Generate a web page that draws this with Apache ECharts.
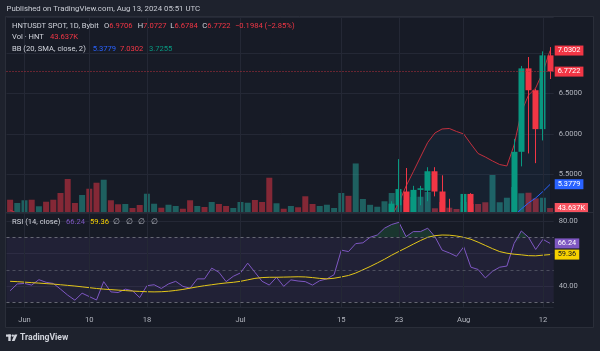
<!DOCTYPE html>
<html>
<head>
<meta charset="utf-8">
<title>HNTUSDT 1D</title>
<script src="https://cdn.jsdelivr.net/npm/echarts@6/dist/echarts.min.js"></script>
<style>
  html, body { margin: 0; padding: 0; background: #1e222d; }
  #chart { width: 600px; height: 351px; }
</style>
</head>
<body>
<div id="chart"></div>
<script>
// daily bars, 30 May - 13 Aug 2024
var dates = [
  '2024-05-30','2024-05-31',
  '2024-06-01','2024-06-02','2024-06-03','2024-06-04','2024-06-05','2024-06-06','2024-06-07','2024-06-08','2024-06-09','2024-06-10',
  '2024-06-11','2024-06-12','2024-06-13','2024-06-14','2024-06-15','2024-06-16','2024-06-17','2024-06-18','2024-06-19','2024-06-20',
  '2024-06-21','2024-06-22','2024-06-23','2024-06-24','2024-06-25','2024-06-26','2024-06-27','2024-06-28','2024-06-29','2024-06-30',
  '2024-07-01','2024-07-02','2024-07-03','2024-07-04','2024-07-05','2024-07-06','2024-07-07','2024-07-08','2024-07-09','2024-07-10',
  '2024-07-11','2024-07-12','2024-07-13','2024-07-14','2024-07-15','2024-07-16','2024-07-17','2024-07-18','2024-07-19','2024-07-20',
  '2024-07-21','2024-07-22','2024-07-23','2024-07-24','2024-07-25','2024-07-26','2024-07-27','2024-07-28','2024-07-29','2024-07-30',
  '2024-07-31','2024-08-01','2024-08-02','2024-08-03','2024-08-04','2024-08-05','2024-08-06','2024-08-07','2024-08-08','2024-08-09',
  '2024-08-10','2024-08-11','2024-08-12','2024-08-13'
];

var opens = [4.70,4.55,4.60,4.66,4.55,4.60,4.52,4.42,4.25,4.02, 3.95,4.06,3.92,3.78,4.02,3.88,3.84,3.90,3.85,3.72,
  3.90,3.94,3.88,3.96,4.01,3.94,3.87,3.98,3.96,4.15, 4.10,3.96,4.03,4.09,4.24,4.10,3.94,3.82,3.92,3.80,
  3.88,3.85,3.82,3.76,3.83,3.87,3.95,4.45,4.42,4.62, 4.66,4.78,4.84,4.96,5.12,5.29,5.03,5.31,5.30,5.54,
  5.29,5.00,4.85,4.80,5.26,4.85,4.75,4.45,4.62,4.75, 4.80,5.78,6.81,6.54,6.06,6.9706];
var highs = [4.78,4.66,4.72,4.70,4.64,4.63,4.55,4.45,4.28,4.06, 4.10,4.08,3.95,4.10,4.04,3.92,3.94,3.92,3.88,3.95,
  3.98,3.96,4.00,4.05,4.03,3.98,4.02,4.03,4.20,4.18, 4.12,4.07,4.13,4.30,4.26,4.12,3.98,3.98,3.94,3.92,
  3.92,3.90,3.85,3.86,3.90,3.99,4.52,4.55,4.70,4.74, 4.84,4.90,5.01,5.17,5.69,5.58,5.36,5.36,5.59,5.59,
  5.49,5.20,4.95,5.38,5.27,4.95,4.80,4.75,4.82,4.92, 5.94,6.84,6.95,6.56,7.02,7.0727];
var lows = [4.50,4.50,4.55,4.50,4.52,4.48,4.38,4.20,3.95,3.90, 3.90,3.85,3.70,3.75,3.84,3.80,3.80,3.82,3.66,3.70,
  3.86,3.84,3.85,3.93,3.90,3.80,3.84,3.92,3.94,4.05, 3.92,3.94,4.00,4.06,4.06,3.88,3.55,3.78,3.76,3.77,
  3.82,3.76,3.72,3.74,3.80,3.84,3.92,4.35,4.38,4.56, 4.62,4.74,4.80,4.92,4.98,4.98,5.00,5.12,5.17,5.23,
  4.95,4.80,4.70,4.75,4.80,4.60,4.10,4.35,4.55,4.70, 4.75,5.60,5.76,5.64,5.92,6.6784];
var closes = [4.55,4.60,4.66,4.55,4.60,4.52,4.42,4.25,4.02,3.95, 4.06,3.92,3.78,4.02,3.88,3.84,3.90,3.85,3.72,3.90,
  3.94,3.88,3.96,4.01,3.94,3.87,3.98,3.96,4.15,4.10, 3.96,4.03,4.09,4.24,4.10,3.94,3.82,3.92,3.80,3.88,
  3.85,3.82,3.76,3.83,3.87,3.95,4.45,4.42,4.62,4.66, 4.78,4.84,4.96,5.14,5.32,5.03,5.31,5.33,5.54,5.29,
  5.00,4.85,4.80,5.26,4.85,4.75,4.45,4.62,4.75,4.80, 5.78,6.81,6.54,6.06,6.9706,6.7722];

// volume, thousands of HNT
var volumes = [135,99,129,135,63,113,135,209,363,99, 187,256,322,355,129,85,88,44,77,201,
  91,47,80,66,36,129,66,55,110,88, 66,44,110,102,132,110,377,96,36,66,
  52,173,88,66,80,44,209,178,534,143, 79,58,118,209,220,132,165,168,220,41,
  110,47,33,110,88,88,107,407,107,157, 275,206,212,150,157,43.637];

// Bollinger Bands (20, SMA, close, 2)
var bbUpper = [5.06,5.02,4.99,4.96,4.94,4.92,4.90,4.88,4.87,4.86, 4.85,4.83,4.82,4.80,4.78,4.75,4.72,4.68,4.64,4.60,
  4.55,4.50,4.45,4.40,4.32,4.25,4.20,4.17,4.18,4.19, 4.19,4.19,4.20,4.24,4.25,4.25,4.26,4.26,4.26,4.25,
  4.25,4.24,4.24,4.23,4.22,4.22,4.38,4.50,4.62,4.73, 4.83,4.90,4.96,4.99,5.15,5.358,5.535,5.716,5.895,6.012,
  6.062,6.068,6.031,6.00,5.877,5.759,5.716,5.667,5.623,5.605, 5.864,6.27,6.48,6.568,6.765,7.0302];
var bbBasis = [4.62,4.60,4.58,4.56,4.55,4.53,4.51,4.48,4.45,4.42, 4.39,4.36,4.32,4.29,4.26,4.22,4.18,4.15,4.11,4.08,
  4.05,4.02,3.99,3.97,3.95,3.93,3.92,3.92,3.93,3.94, 3.95,3.96,3.96,3.98,3.99,3.99,3.99,3.98,3.97,3.96,
  3.95,3.94,3.93,3.92,3.91,3.91,3.94,3.97,4.01,4.05, 4.09,4.13,4.18,4.24,4.31,4.37,4.43,4.49,4.56,4.62,
  4.67,4.71,4.74,4.78,4.81,4.83,4.84,4.86,4.88,4.91, 4.99,5.074,5.148,5.21,5.29,5.3779];
var bbLowerLast = 3.7255;

// RSI (14, close) and its moving average
var rsi = [37.1,41.3,41.6,40.6,43.9,42.3,41.6,38.1,34.4,31.3, 35.6,33.5,31.4,42.7,36.4,36.0,38.1,37.1,32.9,40.2,
  40.8,38.5,41.3,42.9,39.8,38.7,44.4,44.4,51.0,48.5, 42.7,46.0,48.1,54.1,48.5,42.9,40.6,45.4,39.8,43.8,
  43.1,42.7,40.6,43.3,44.4,47.0,62.1,61.2,66.1,66.6, 70.0,71.4,75.6,77.9,79.2,70.4,73.5,73.5,75.6,70.4,
  62.1,60.4,58.3,64.1,51.6,50.2,45.0,49.1,51.6,52.3, 66.2,73.9,70.0,62.5,68.75,66.24];
var rsiMa = [42.9,42.7,42.4,42.1,41.8,41.5,41.2,40.8,40.4,40.0, 39.5,39.0,38.5,38.1,37.8,37.5,37.2,36.9,36.7,36.5,
  36.4,36.5,36.8,37.3,37.9,38.7,39.5,40.2,40.8,41.4, 41.9,42.3,42.9,43.8,44.7,45.2,45.4,45.4,45.5,45.6,
  45.7,45.6,45.2,44.7,44.4,44.8,45.6,46.5,48.0,50.0, 52.0,54.2,56.5,59.0,61.3,63.5,65.8,68.0,70.0,71.0,
  71.4,71.3,70.8,70.0,68.8,67.0,65.0,63.0,61.2,60.2, 59.6,59.2,58.7,58.6,59.0,59.36];

var tickDates = ['2024-06-01','2024-06-10','2024-06-18','2024-07-01','2024-07-15','2024-07-23','2024-08-01','2024-08-12'];
var tickLabels = ['Jun','10','18','Jul','15','23','Aug','12'];

var FONT = 'Roboto, "Liberation Sans", Arial, sans-serif';
var UP = '#089981', DOWN = '#f23645';
var TXT = '#b2b5be', LEG = '#d1d4dc', GRIDC = '#242835';
var FS = 7.6;

var chart = echarts.init(document.getElementById('chart'));

var last = dates.length - 1;
var candleData = opens.map(function (o, i) { return [i, o, closes[i], lows[i], highs[i]]; });
var volData = volumes.map(function (v, i) {
  return { value: v, itemStyle: { color: closes[i] >= opens[i] ? 'rgba(38,166,154,0.5)' : 'rgba(242,54,69,0.5)' } };
});
var rsiBase = rsi.map(function (v) { return Math.min(v, 70); });
var rsiOver = rsi.map(function (v) { return Math.max(v - 70, 0); });

// candle drawn through the price axis, clipped to the pane
function renderCandle(params, api) {
  var i = api.value(0), o = api.value(1), c = api.value(2), l = api.value(3), h = api.value(4);
  var pO = api.coord([i, o]), pC = api.coord([i, c]), pL = api.coord([i, l]), pH = api.coord([i, h]);
  var w = 6;
  var x = Math.round(pO[0] - 0.5) + 0.5;
  var color = c >= o ? UP : DOWN;
  var top = Math.min(pO[1], pC[1]);
  return {
    type: 'group',
    children: [
      { type: 'line', shape: { x1: x, y1: pH[1], x2: x, y2: pL[1] }, style: { stroke: color, lineWidth: 1 } },
      { type: 'rect', shape: { x: x - w / 2, y: top, width: w, height: Math.max(1, Math.abs(pO[1] - pC[1])) },
        style: { fill: color } }
    ]
  };
}

function isTick(idx, val) { return tickDates.indexOf(val) >= 0; }

function tagLabel(text, bg, fg) {
  return { show: true, position: 'end', distance: 1, formatter: text, backgroundColor: bg, color: fg || '#ffffff',
    padding: [2, 3, 1, 3], fontSize: FS - 0.2, fontFamily: FONT };
}
function tag(value, text, bg, fg) {
  return { symbol: 'none', silent: true, animation: false,
    lineStyle: { color: 'transparent', width: 0 }, label: tagLabel(text, bg, fg), data: [{ yAxis: value }] };
}

function txt(x, y, s, color, size, weight) {
  return { type: 'text', x: x, y: y, z: 50,
    style: { text: s, fill: color, font: (weight || 'normal') + ' ' + (size || FS) + 'px ' + FONT,
      verticalAlign: 'middle', textVerticalAlign: 'middle' } };
}
// legend pair: grey key followed directly by a coloured value
function pair(x, y, key, val, color) {
  return { type: 'text', x: x, y: y, z: 50,
    style: { text: '{k|' + key + '}{v|' + val + '}', font: FS + 'px ' + FONT, fill: LEG,
      verticalAlign: 'middle', textVerticalAlign: 'middle',
      rich: { k: { fill: LEG, font: FS + 'px ' + FONT }, v: { fill: color, font: FS + 'px ' + FONT } } } };
}

var vGrid = {
  symbol: 'none', silent: true, animation: false,
  lineStyle: { color: GRIDC, type: 'solid', width: 1 },
  label: { show: false },
  data: tickDates.map(function (d) { return { xAxis: d }; })
};

var option = {
  backgroundColor: '#1e222d',
  animation: false,
  graphic: [
    { type: 'rect', z: -100, shape: { x: 5.5, y: 16.5, width: 588, height: 311 },
      style: { fill: '#171b26', stroke: '#2a2e39', lineWidth: 1 } },
    { type: 'line', z: 40, shape: { x1: 6, y1: 212.5, x2: 593, y2: 212.5 }, style: { stroke: '#2a2e39', lineWidth: 1 } },
    txt(6.5, 9.3, 'Published on TradingView.com, Aug 13, 2024 05:51 UTC', '#c9ccd4', 7.8),
    txt(12, 26, 'HNTUSDT SPOT, 1D, Bybit', LEG),
    pair(104, 26, 'O', '6.9706', DOWN),
    pair(137.7, 26, 'H', '7.0727', DOWN),
    pair(170.3, 26, 'L', '6.6784', DOWN),
    pair(202.3, 26, 'C', '6.7722', DOWN),
    txt(235, 26, '\u22120.1984 (\u22122.85%)', DOWN),
    txt(12, 37.5, 'Vol \u00b7 HNT', LEG), txt(50, 37.5, '43.637K', DOWN),
    txt(12, 49, 'BB (20, SMA, close, 2)', LEG),
    txt(92.7, 49, bbBasis[last].toFixed(4), '#2962ff'),
    txt(120, 49, bbUpper[last].toFixed(4), DOWN),
    txt(149, 49, bbLowerLast.toFixed(4), UP),
    txt(12, 222, 'RSI (14, close)', LEG),
    txt(66, 222, rsi[last].toFixed(2), '#7e57c2'),
    txt(90, 222, rsiMa[last].toFixed(2), '#f7d100'),
    txt(113, 222, '\u2205', TXT), txt(125.5, 222, '\u2205', TXT), txt(138, 222, '\u2205', TXT), txt(150.5, 222, '\u2205', TXT),
    { type: 'rect', z: 50, shape: { x: 6, y: 334.5, width: 5, height: 2.2 }, style: { fill: LEG } },
    { type: 'rect', z: 50, shape: { x: 8.3, y: 334.5, width: 2.4, height: 6.5 }, style: { fill: LEG } },
    { type: 'circle', z: 50, shape: { cx: 12.8, cy: 335.6, r: 1.2 }, style: { fill: LEG } },
    { type: 'polygon', z: 50, shape: { points: [[14.6, 334.5], [17.4, 334.5], [14.6, 341], [11.8, 341]] }, style: { fill: LEG } },
    txt(20, 338, 'TradingView', LEG, 8.6, 'bold')
  ],
  grid: [
    { left: 6.5, width: 547.2, top: 17, height: 195 },
    { left: 6.5, width: 547.2, top: 17, height: 195 },
    { left: 6.5, width: 547.2, top: 213, height: 94 }
  ],
  xAxis: [
    { type: 'category', gridIndex: 0, data: dates, boundaryGap: true,
      axisLine: { show: false }, axisTick: { show: false }, axisLabel: { show: false }, splitLine: { show: false } },
    { type: 'category', gridIndex: 1, data: dates, boundaryGap: true, show: false },
    { type: 'category', gridIndex: 2, data: dates, boundaryGap: true,
      axisLine: { show: false }, axisTick: { show: false }, splitLine: { show: false },
      axisLabel: { interval: isTick, margin: 9, color: TXT, fontSize: FS, fontFamily: FONT,
        formatter: function (v) { return tickLabels[tickDates.indexOf(v)]; } } }
  ],
  yAxis: [
    { type: 'value', gridIndex: 0, position: 'right', min: 5.037, max: 7.444, splitNumber: 5,
      axisLine: { show: false }, axisTick: { show: false },
      axisLabel: { margin: 5, color: TXT, fontSize: FS, fontFamily: FONT, showMinLabel: false, showMaxLabel: false,
        formatter: function (v) { return Math.abs(v - 7) < 1e-6 ? '' : v.toFixed(4); } },
      splitLine: { lineStyle: { color: GRIDC } } },
    { type: 'value', gridIndex: 1, min: 0, max: 2145, show: false, splitLine: { show: false } },
    { type: 'value', gridIndex: 2, position: 'right', min: 27.1, max: 84.95, splitNumber: 3,
      axisLine: { show: false }, axisTick: { show: false },
      axisLabel: { margin: 5, color: TXT, fontSize: FS, fontFamily: FONT, showMinLabel: false, showMaxLabel: false,
        formatter: function (v) { return Math.abs(v - 60) < 1e-6 ? '' : v.toFixed(2); } },
      splitLine: { lineStyle: { color: GRIDC } } }
  ],
  series: [
    { name: 'grid-main', type: 'line', xAxisIndex: 1, yAxisIndex: 1, data: [], z: 0, markLine: vGrid },
    { name: 'grid-rsi', type: 'line', xAxisIndex: 2, yAxisIndex: 2, data: [], z: 0, markLine: vGrid,
      markArea: { silent: true, itemStyle: { color: 'rgba(126,87,194,0.1)' }, data: [[{ yAxis: 30 }, { yAxis: 70 }]] } },
    { name: 'Volume', type: 'bar', xAxisIndex: 1, yAxisIndex: 1, data: volData, barWidth: 6, z: 1,
      markLine: tag(volumes[last], volumes[last].toFixed(3) + 'K', '#f7525f') },
    { name: 'BB Upper', type: 'line', xAxisIndex: 0, yAxisIndex: 0, data: bbUpper, symbol: 'none', z: 2,
      lineStyle: { color: '#c2303e', width: 1 },
      areaStyle: { origin: 'start', color: 'rgba(33,150,243,0.07)' },
      markLine: tag(bbUpper[last], bbUpper[last].toFixed(4), DOWN) },
    { name: 'BB Basis', type: 'line', xAxisIndex: 0, yAxisIndex: 0, data: bbBasis, symbol: 'none', z: 2,
      lineStyle: { color: '#2962ff', width: 1 },
      markLine: {
        symbol: 'none', silent: true, animation: false,
        data: [
          { yAxis: bbBasis[last], lineStyle: { color: 'transparent', width: 0 },
            label: tagLabel(bbBasis[last].toFixed(4), '#2962ff') },
          { yAxis: closes[last], lineStyle: { color: '#b8303c', type: [1, 2], width: 1 },
            label: tagLabel(closes[last].toFixed(4), DOWN) }
        ]
      } },
    { name: 'HNTUSDT', type: 'custom', xAxisIndex: 0, yAxisIndex: 0, data: candleData, z: 3, clip: true,
      renderItem: renderCandle, encode: { x: 0, y: [1, 2, 3, 4] } },
    { name: 'ob-base', type: 'line', xAxisIndex: 2, yAxisIndex: 2, data: rsiBase, stack: 'ob', symbol: 'none',
      lineStyle: { opacity: 0 }, silent: true, z: 1 },
    { name: 'ob-fill', type: 'line', xAxisIndex: 2, yAxisIndex: 2, data: rsiOver, stack: 'ob', symbol: 'none',
      lineStyle: { opacity: 0 }, silent: true, z: 1, areaStyle: { color: 'rgba(38,140,80,0.35)' } },
    { name: 'RSI', type: 'line', xAxisIndex: 2, yAxisIndex: 2, data: rsi, symbol: 'none', z: 3,
      lineStyle: { color: '#7e57c2', width: 1 },
      markLine: {
        symbol: 'none', silent: true, animation: false, label: { show: false },
        data: [
          { yAxis: 70, lineStyle: { color: '#787b86', type: [3, 3], width: 1, opacity: 0.8 } },
          { yAxis: 50, lineStyle: { color: '#787b86', type: [3, 3], width: 1, opacity: 0.5 } },
          { yAxis: 30, lineStyle: { color: '#787b86', type: [3, 3], width: 1, opacity: 0.8 } },
          { yAxis: rsi[last], lineStyle: { color: 'transparent', width: 0 },
            label: tagLabel(rsi[last].toFixed(2), '#7e57c2') }
        ]
      } },
    { name: 'RSI MA', type: 'line', xAxisIndex: 2, yAxisIndex: 2, data: rsiMa, symbol: 'none', z: 3,
      lineStyle: { color: '#e3c619', width: 1 },
      markLine: tag(rsiMa[last], rsiMa[last].toFixed(2), '#f7d100', '#131722') }
  ]
};

chart.setOption(option);
</script>
</body>
</html>
